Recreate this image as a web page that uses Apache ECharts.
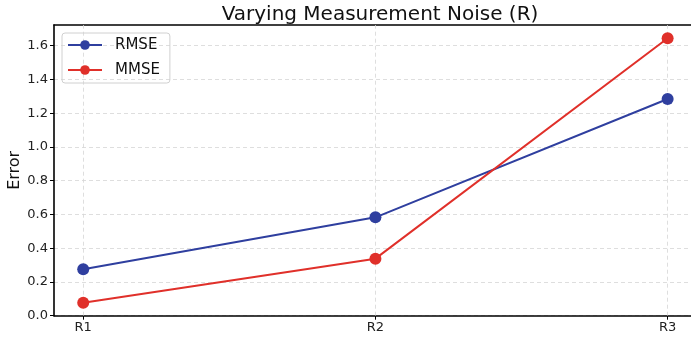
<!DOCTYPE html>
<html><head><meta charset="utf-8">
<script src="https://cdn.jsdelivr.net/npm/echarts@6/dist/echarts.min.js"></script>
<style>html,body{margin:0;padding:0;background:#fff}#c{width:691px;height:340px}</style>
</head><body><div id="c"></div>
<script>
const categories = ['R1', 'R2', 'R3'];
const rmse = [0.275, 0.583, 1.284];
const mmse = [0.077, 0.338, 1.644];
const yTicks = [0, 0.2, 0.4, 0.6, 0.8, 1.0, 1.2, 1.4, 1.6];

const idx = categories.map((c, i) => i);
const font = 'DejaVu Sans';
const chart = echarts.init(document.getElementById('c'));
const mk = (name, vals, color) => ({
  name, type: 'line', data: vals.map((v, i) => [i, v]),
  symbol: 'circle', symbolSize: 12,
  lineStyle: { color, width: 2 }, itemStyle: { color },
  emphasis: { disabled: true }, z: 3
});
chart.setOption({
  animation: false,
  title: { text: 'Varying Measurement Noise (R)', left: 375, textAlign: 'center', top: 0,
    textStyle: { fontFamily: font, fontSize: 20, fontWeight: 'normal', color: '#111' } },
  legend: { orient: 'vertical', left: 62, top: 33, padding: [3, 10, 4, 5], itemGap: 7,
    itemWidth: 34, itemHeight: 12, borderColor: '#d0d0d0', borderWidth: 1, borderRadius: 3,
    textStyle: { fontFamily: font, fontSize: 15, color: '#111', lineHeight: 18, padding: [0, 0, 0, 8] },
    data: ['RMSE', 'MMSE'] },
  grid: { left: 54, right: 0, top: 25, bottom: 24.3, containLabel: false, outerBoundsMode: 'none' },
  xAxis: [{
    type: 'value', min: -0.1, max: 2.08,
    axisLine: { show: true, onZero: false, lineStyle: { color: '#000', width: 1.6 } },
    axisTick: { show: true, customValues: idx, length: 4, lineStyle: { color: '#000' } },
    axisLabel: { customValues: idx, formatter: v => categories[Math.round(v)] ?? '',
      fontFamily: font, fontSize: 13, color: '#222', margin: 5 },
    splitLine: { show: false }
  }, {
    type: 'value', min: -0.1, max: 2.08, position: 'top',
    axisLine: { show: true, onZero: false, lineStyle: { color: '#000', width: 1.6 } },
    axisTick: { show: false }, axisLabel: { show: false }, splitLine: { show: false }
  }],
  yAxis: {
    type: 'value', min: 0, max: 1.7227, interval: 0.2,
    name: 'Error', nameLocation: 'middle', nameGap: 31, nameRotate: 90, nameMoveOverlap: false,
    nameTextStyle: { fontFamily: font, fontSize: 16, color: '#111' },
    axisLine: { show: true, onZero: false, lineStyle: { color: '#000', width: 1.6 } },
    axisTick: { show: true, customValues: yTicks, length: 4, lineStyle: { color: '#000' } },
    axisLabel: { customValues: yTicks, formatter: v => v.toFixed(1), fontFamily: font, fontSize: 13, color: '#222', margin: 6 },
    splitLine: { show: true, lineStyle: { color: '#d6d6d6', type: [4, 3], width: 0.8 } }
  },
  series: [
    mk('RMSE', rmse, '#2f3f9f'),
    mk('MMSE', mmse, '#e0302a'),
    { type: 'line', data: [], silent: true, z: 1,
      markLine: { silent: true, z: 1, symbol: 'none', label: { show: false },
        lineStyle: { color: '#d6d6d6', type: [4, 3], width: 0.8 },
        data: idx.map(i => ({ xAxis: i })) } }
  ]
});
</script></body></html>
